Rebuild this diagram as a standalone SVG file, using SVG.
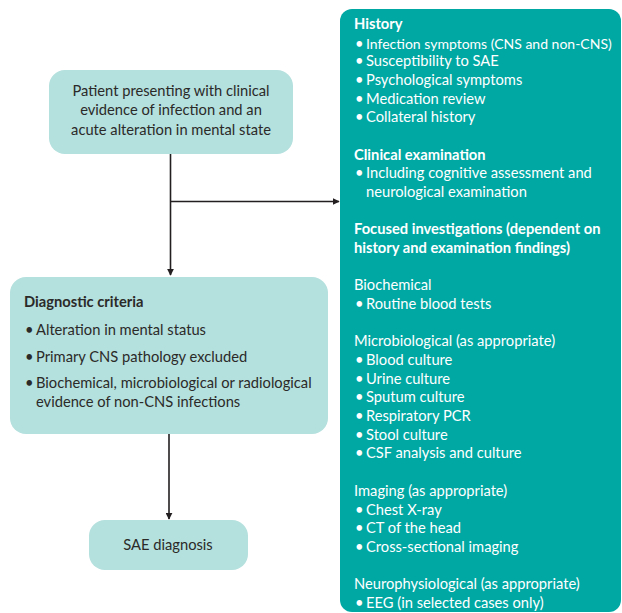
<svg xmlns="http://www.w3.org/2000/svg" width="622" height="613" viewBox="0 0 622 613">
<defs>
<style>
text{font-family:Lato,"Liberation Sans",sans-serif;font-size:14.7px}
.d{fill:#2b2a29}
.w{fill:#ffffff}
.b{font-weight:bold}
.light{fill:#b4e0dd}
.dark{fill:#00a8a4}
.c{text-anchor:middle}
.conn{stroke:#231f20;stroke-width:1.6;fill:none}
</style>
<marker id="ahd" viewBox="0 0 10 10" refX="9" refY="5" markerWidth="7" markerHeight="7" orient="auto" markerUnits="userSpaceOnUse">
<path d="M0,0 L10,5 L0,10 z" fill="#231f20"/>
</marker>
</defs>

<g id="connectors">
<line class="conn" x1="170.5" y1="154" x2="170.5" y2="275" marker-end="url(#ahd)"/>
<line class="conn" x1="170.5" y1="201.5" x2="339" y2="201.5" marker-end="url(#ahd)"/>
<line class="conn" x1="169" y1="434" x2="169" y2="519" marker-end="url(#ahd)"/>
</g>

<g id="node-patient">
<rect class="light" x="49" y="70" width="244" height="84" rx="16"/>
<text class="d c" x="171" y="96">Patient presenting with clinical</text>
<text class="d c" x="171" y="115">evidence of infection and an</text>
<text class="d c" x="171" y="135">acute alteration in mental state</text>
</g>

<g id="node-criteria">
<rect class="light" x="10" y="277" width="318" height="157" rx="16"/>
<text class="d b" x="24" y="307">Diagnostic criteria</text>
<text class="d" x="25" y="335">•</text><text class="d" x="36" y="335">Alteration in mental status</text>
<text class="d" x="25" y="362">•</text><text class="d" x="36" y="362">Primary CNS pathology excluded</text>
<text class="d" x="25" y="388">•</text><text class="d" x="36" y="388">Biochemical, microbiological or radiological</text>
<text class="d" x="36" y="407">evidence of non-CNS infections</text>
</g>

<g id="node-sae">
<rect class="light" x="89" y="520" width="159" height="50" rx="16"/>
<text class="d c" x="168" y="550">SAE diagnosis</text>
</g>

<g id="node-workup">
<rect class="dark" x="340" y="9" width="281" height="603" rx="12"/>
<text class="w b" x="354" y="29">History</text>
<text class="w" x="355" y="49">•</text><text class="w" x="366" y="49" style="font-size:14px">Infection symptoms (CNS and non-CNS)</text>
<text class="w" x="355" y="66">•</text><text class="w" x="366" y="66">Susceptibility to SAE</text>
<text class="w" x="355" y="85">•</text><text class="w" x="366" y="85">Psychological symptoms</text>
<text class="w" x="355" y="104">•</text><text class="w" x="366" y="104">Medication review</text>
<text class="w" x="355" y="122">•</text><text class="w" x="366" y="122">Collateral history</text>

<text class="w b" x="354" y="160">Clinical examination</text>
<text class="w" x="355" y="178">•</text><text class="w" x="366" y="178">Including cognitive assessment and</text>
<text class="w" x="366" y="197">neurological examination</text>

<text class="w b" x="354" y="234">Focused investigations (dependent on</text>
<text class="w b" x="354" y="253">history and examination findings)</text>

<text class="w" x="354" y="290">Biochemical</text>
<text class="w" x="355" y="309">•</text><text class="w" x="366" y="309">Routine blood tests</text>

<text class="w" x="354" y="346">Microbiological (as appropriate)</text>
<text class="w" x="355" y="365">•</text><text class="w" x="366" y="365">Blood culture</text>
<text class="w" x="355" y="384">•</text><text class="w" x="366" y="384">Urine culture</text>
<text class="w" x="355" y="402">•</text><text class="w" x="366" y="402">Sputum culture</text>
<text class="w" x="355" y="421">•</text><text class="w" x="366" y="421">Respiratory PCR</text>
<text class="w" x="355" y="440">•</text><text class="w" x="366" y="440">Stool culture</text>
<text class="w" x="355" y="458">•</text><text class="w" x="366" y="458">CSF analysis and culture</text>

<text class="w" x="354" y="496">Imaging (as appropriate)</text>
<text class="w" x="355" y="515">•</text><text class="w" x="366" y="515">Chest X-ray</text>
<text class="w" x="355" y="533">•</text><text class="w" x="366" y="533">CT of the head</text>
<text class="w" x="355" y="552">•</text><text class="w" x="366" y="552">Cross-sectional imaging</text>

<text class="w" x="354" y="589">Neurophysiological (as appropriate)</text>
<text class="w" x="355" y="608">•</text><text class="w" x="366" y="608">EEG (in selected cases only)</text>
</g>
</svg>
